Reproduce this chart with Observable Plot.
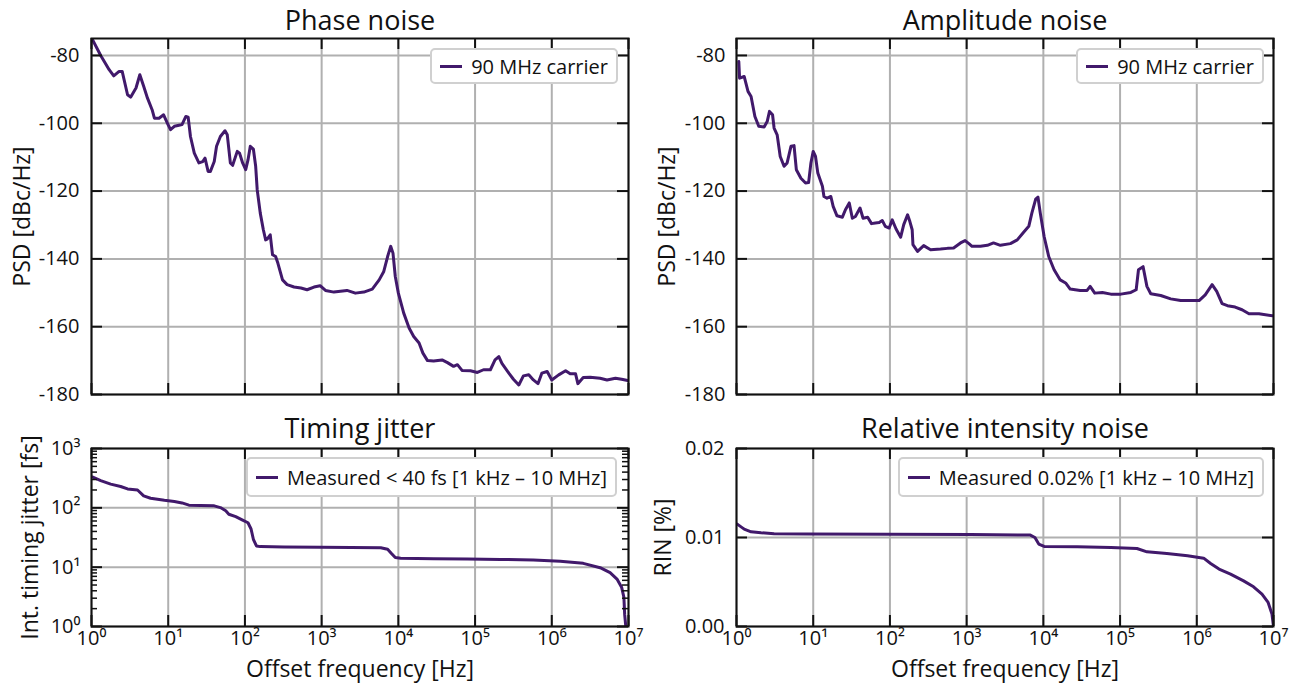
<!DOCTYPE html>
<html><head><meta charset="utf-8">
<script src="https://cdn.jsdelivr.net/npm/d3@7"></script>
<script src="https://cdn.jsdelivr.net/npm/@observablehq/plot@0.6"></script>
<style>
body{margin:0;background:#fff;font-family:"Open Sans",sans-serif;}
#wrap{position:relative;width:1299px;height:684px;overflow:hidden;background:#fff;}
.panel{position:absolute;}
.legend{position:absolute;background:#fff;border:2px solid #d0d0d0;border-radius:5px;display:flex;align-items:center;font-size:20px;color:#111;box-sizing:border-box;padding:0 8px 0 8px;white-space:nowrap;font-family:"Open Sans",sans-serif;}
.legend .sw{display:inline-block;width:22px;height:3px;background:#41196b;margin-right:9px;}
</style></head><body><div id="wrap"></div><script>
// ---- data (frequency as log10 exponent of Hz) ----
const phaseLogF = [0.01,0.12,0.23,0.29,0.36,0.40,0.47,0.51,0.58,0.63,0.68,0.73,0.79,0.82,0.88,0.94,0.99,1.03,1.08,1.14,1.18,1.23,1.26,1.29,1.34,1.40,1.45,1.48,1.52,1.55,1.60,1.63,1.68,1.74,1.77,1.81,1.84,1.90,1.93,1.97,2.01,2.04,2.07,2.11,2.14,2.16,2.20,2.24,2.27,2.29,2.33,2.36,2.40,2.43,2.49,2.55,2.64,2.73,2.81,2.90,2.98,3.05,3.16,3.33,3.44,3.55,3.66,3.75,3.81,3.86,3.90,3.93,3.96,4.00,4.07,4.14,4.20,4.27,4.32,4.38,4.46,4.57,4.64,4.72,4.77,4.83,4.94,5.03,5.11,5.20,5.26,5.31,5.35,5.44,5.50,5.57,5.63,5.70,5.76,5.82,5.87,5.94,6.00,6.09,6.18,6.24,6.31,6.34,6.41,6.50,6.63,6.72,6.83,6.91,6.99];
const phaseDb = [-75.2,-80,-84.2,-86,-84.7,-84.7,-91.6,-92.3,-89.6,-85.7,-89.1,-92.6,-96,-98.5,-98.5,-97.5,-100,-101.9,-100.9,-100.6,-100.4,-98,-98.2,-103.9,-108.8,-111.7,-111.3,-110.3,-114.2,-114.2,-111.3,-106.8,-103.9,-102.2,-103.4,-111.7,-112.4,-108.3,-108.8,-111.7,-113.7,-110.8,-106.8,-107.6,-112.7,-119.6,-126.5,-131.4,-134.4,-134.2,-132.9,-138.8,-139.3,-141.3,-146.2,-147.6,-148.3,-148.6,-149.1,-148.3,-147.9,-149.3,-149.8,-149.3,-150.1,-149.8,-148.9,-146.2,-143.7,-139.3,-136.3,-138.3,-145.2,-150.1,-156,-160.4,-162.9,-164.8,-167.8,-170,-170.1,-169.8,-170.6,-171.7,-171.2,-172.9,-173,-173.5,-172.7,-172.7,-169.8,-168.8,-170.8,-173.7,-175.5,-177.2,-174.5,-174.2,-175.7,-176.8,-173.7,-173.2,-175.7,-174.2,-173,-173.9,-173.9,-176.8,-175,-174.9,-175.2,-175.7,-175.2,-175.5,-175.9];

const ampLogF = [0.03,0.04,0.10,0.15,0.19,0.24,0.29,0.36,0.40,0.43,0.47,0.49,0.53,0.57,0.62,0.66,0.71,0.75,0.78,0.84,0.90,0.94,0.97,1.00,1.03,1.06,1.12,1.14,1.18,1.23,1.26,1.31,1.38,1.42,1.47,1.51,1.55,1.61,1.65,1.71,1.76,1.81,1.86,1.90,1.94,1.99,2.03,2.08,2.14,2.18,2.23,2.26,2.29,2.30,2.36,2.44,2.53,2.66,2.75,2.83,2.92,2.98,3.03,3.07,3.18,3.27,3.35,3.44,3.57,3.66,3.74,3.81,3.85,3.90,3.93,3.96,4.01,4.07,4.14,4.22,4.29,4.35,4.48,4.57,4.61,4.67,4.77,4.88,5.01,5.14,5.21,5.24,5.30,5.35,5.40,5.53,5.66,5.79,5.92,6.03,6.11,6.20,6.26,6.33,6.40,6.50,6.59,6.68,6.81,6.99];
const ampDb = [-81.8,-86.7,-86.2,-90.6,-92.1,-98,-100.9,-101.1,-99.5,-96.5,-97.5,-101.4,-103.4,-109.8,-112.7,-111.7,-106.8,-106.6,-113.7,-116.2,-117.6,-117.5,-111.7,-108.3,-109.8,-114.7,-118.6,-121.6,-122.1,-121.6,-124.5,-127.3,-127.7,-125.5,-123.5,-128,-127.5,-125,-128,-127.7,-129.6,-129.4,-129.3,-128.7,-130.4,-130.9,-128.5,-131.2,-133.6,-129.9,-127,-129,-131.4,-135.8,-137.8,-136.1,-137.3,-137.1,-136.9,-136.8,-135.3,-134.6,-135.5,-136.3,-136.3,-136,-135.3,-136,-135.5,-134.4,-132.2,-130.4,-126.5,-122.4,-121.8,-126.5,-133.4,-139.3,-143.2,-146.2,-147.1,-148.9,-149.3,-149.3,-148.1,-150.1,-149.9,-150.4,-150.4,-149.9,-149.1,-143.2,-142.3,-148.1,-150.3,-150.8,-151.8,-152.3,-152.3,-152.3,-150.6,-147.6,-149.6,-153.2,-153.8,-154.2,-155,-156.2,-156.2,-156.8];

const jitLogF = [0.01,0.12,0.25,0.38,0.47,0.60,0.68,0.77,0.95,1.08,1.18,1.27,1.42,1.60,1.68,1.75,1.79,1.88,1.97,2.04,2.08,2.11,2.15,2.20,2.51,2.99,3.38,3.77,3.86,3.91,3.96,4.03,4.46,4.90,5.33,5.76,6.11,6.41,6.63,6.76,6.85,6.91,6.94,6.95,6.965];
const jitFs = [331,288,251,229,208,200,159,145,134,128,121,111,110,108,101,89,78,71,62,56,44,29.5,22.8,22.2,21.9,21.7,21.5,21.3,20.1,17,14.5,14.1,13.9,13.7,13.5,13.2,12.6,11.6,9.8,8.1,6.3,4.6,3.1,1.6,1.0];

const rinLogF = [0.01,0.10,0.19,0.32,0.49,0.92,3.05,3.83,3.89,3.94,4.01,4.44,4.88,5.22,5.35,5.61,5.88,6.09,6.18,6.29,6.44,6.61,6.74,6.85,6.93,6.98,7.0];
const rinPct = [0.0115,0.01094,0.01064,0.01053,0.01042,0.01038,0.01035,0.01027,0.0100,0.00926,0.00899,0.00896,0.00888,0.00876,0.00839,0.0082,0.00794,0.00768,0.00708,0.00645,0.00589,0.00513,0.00446,0.00364,0.0027,0.0014,0.0];

const decades = [1,10,100,1e3,1e4,1e5,1e6,1e7];
const psdTicks = [-80,-100,-120,-140,-160,-180];
const jitTicks = [1,10,100,1000];
const jitMinor = [2,3,4,5,6,7,8,9,20,30,40,50,60,70,80,90,200,300,400,500,600,700,800,900];
const rinTicks = [0,0.01,0.02];

const titles = ["Phase noise","Amplitude noise","Timing jitter","Relative intensity noise"];
const yLabels = ["PSD [dBc/Hz]","PSD [dBc/Hz]","Int. timing jitter [fs]","RIN [%]"];
const xLabel = "Offset frequency [Hz]";
const legendLabels = ["90 MHz carrier","90 MHz carrier","Measured < 40 fs [1 kHz \u2013 10 MHz]","Measured 0.02% [1 kHz \u2013 10 MHz]"];

// ---- rendering ----
const COLOR = "#41196b", GRID = "#b0b0b0", INK = "#111";
const SUP = "\u2070\u00b9\u00b2\u00b3\u2074\u2075\u2076\u2077\u2078\u2079";
const pow10 = d => "10" + SUP[Math.round(Math.log10(d))];
const table = (lf, v) => lf.map((e, i) => ({f: Math.pow(10, e), v: v[i]}));

const wrap = document.getElementById("wrap");
const TK = 11;

function panel(o) {
  const W = o.width - o.mL - o.mR, H = o.height - o.mT - o.mB;
  const yTickMarks = (ticks, len, sw) => [
    Plot.tickY(ticks, {y: d => d, insetRight: W - len, stroke: INK, strokeWidth: sw}),
    Plot.tickY(ticks, {y: d => d, insetLeft: W - len, stroke: INK, strokeWidth: sw})
  ];
  const marks = [
    Plot.gridX(decades, {stroke: GRID, strokeOpacity: 1, strokeWidth: 2}),
    Plot.gridY(o.yTicks, {stroke: GRID, strokeOpacity: 1, strokeWidth: 2}),
    Plot.line(o.data, {x: "f", y: "v", stroke: COLOR, strokeWidth: 3, clip: true, strokeLinejoin: "round"}),
    Plot.tickX(decades, {x: d => d, insetTop: H - TK, stroke: INK, strokeWidth: 2}),
    Plot.tickX(decades, {x: d => d, insetBottom: H - TK, stroke: INK, strokeWidth: 2}),
    ...yTickMarks(o.yTicks, TK, 2),
    Plot.frame({stroke: INK, strokeWidth: 2}),
    Plot.axisY({ticks: o.yTicks, anchor: "left", tickSize: 0, tickPadding: o.tickPad, label: null, tickFormat: o.yFormat, fill: INK}),
    Plot.text([o.title], {text: d => d, frameAnchor: "top", dy: o.titleDy, fontSize: 27, lineAnchor: "middle", fill: INK}),
    Plot.text([o.yLabel], {text: d => d, frameAnchor: "left", dx: o.yLabelDx, rotate: -90, fontSize: 23, lineAnchor: "middle", textAnchor: "middle", fill: INK})
  ];
  if (o.minor) marks.push(...yTickMarks(o.minor, 6, 1.5));
  if (o.xLabels) {
    marks.push(Plot.axisX({ticks: decades, anchor: "bottom", tickSize: 0, tickPadding: 4, label: null, tickFormat: pow10, fill: INK}));
    marks.push(Plot.text([xLabel], {text: d => d, frameAnchor: "bottom", dy: 43, fontSize: 23, lineAnchor: "middle", fill: INK}));
  }
  const chart = Plot.plot({
    width: o.width, height: o.height,
    marginLeft: o.mL, marginRight: o.mR, marginTop: o.mT, marginBottom: o.mB,
    x: o.xLabels ? {type: "log", domain: [1, 1e7]} : {type: "log", domain: [1, 1e7], axis: null},
    y: o.y,
    style: {fontFamily: "'Open Sans', sans-serif", fontSize: "20px", color: INK, background: "transparent", overflow: "visible"},
    marks
  });
  chart.classList.add("panel");
  chart.style.left = o.left + "px";
  chart.style.top = o.top + "px";
  wrap.appendChild(chart);
}

panel({left: 0, top: 0, width: 650, height: 400, mL: 91, mR: 22, mT: 38, mB: 6,
  data: table(phaseLogF, phaseDb), y: {domain: [-180, -75]}, yTicks: psdTicks, yFormat: d => String(d),
  tickPad: 12, title: titles[0], titleDy: -17, yLabel: yLabels[0], yLabelDx: -69, xLabels: false});
panel({left: 650, top: 0, width: 649, height: 400, mL: 86, mR: 26, mT: 38, mB: 6,
  data: table(ampLogF, ampDb), y: {domain: [-180, -75]}, yTicks: psdTicks, yFormat: d => String(d),
  tickPad: 11, title: titles[1], titleDy: -17, yLabel: yLabels[1], yLabelDx: -69, xLabels: false});
panel({left: 0, top: 400, width: 650, height: 284, mL: 91, mR: 22, mT: 48, mB: 58,
  data: table(jitLogF, jitFs), y: {type: "log", domain: [1, 1000]}, yTicks: jitTicks, yFormat: pow10, minor: jitMinor,
  tickPad: 11, title: titles[2], titleDy: -19, yLabel: yLabels[2], yLabelDx: -61, xLabels: true});
panel({left: 650, top: 400, width: 649, height: 284, mL: 86, mR: 26, mT: 48, mB: 58,
  data: table(rinLogF, rinPct), y: {domain: [0, 0.02]}, yTicks: rinTicks, yFormat: d => d.toFixed(2),
  tickPad: 12, title: titles[3], titleDy: -19, yLabel: yLabels[3], yLabelDx: -73, xLabels: true});

// legends
const legendPos = [
  {right: 681, top: 48, height: 36},
  {right: 35, top: 48, height: 36},
  {right: 682, top: 457, height: 40},
  {right: 35, top: 457, height: 40}
];
legendPos.forEach((p, i) => {
  const d = document.createElement("div");
  d.className = "legend";
  d.style.right = p.right + "px";
  d.style.top = p.top + "px";
  d.style.height = p.height + "px";
  const sw = document.createElement("span");
  sw.className = "sw";
  const t = document.createElement("span");
  t.textContent = legendLabels[i];
  d.appendChild(sw); d.appendChild(t);
  wrap.appendChild(d);
});
</script></body></html>
